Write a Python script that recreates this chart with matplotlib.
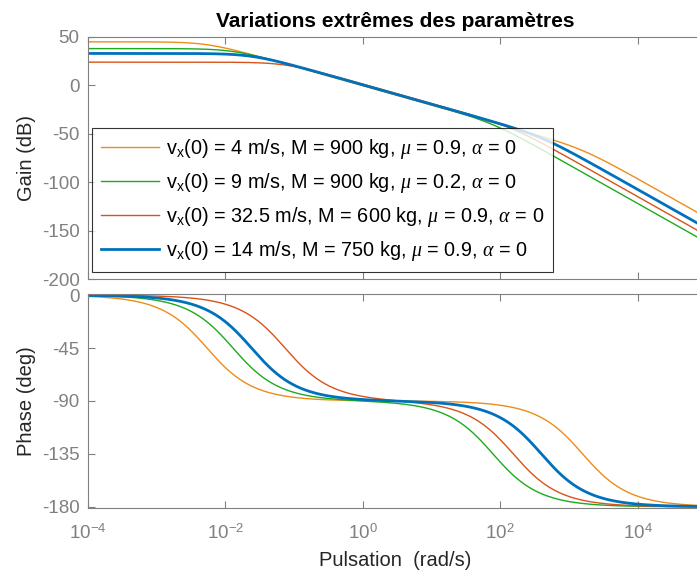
import numpy as np
import matplotlib
matplotlib.use("Agg")
import matplotlib.pyplot as plt

plt.rcParams['font.family'] = ['Liberation Sans', 'DejaVu Sans']
plt.rcParams['mathtext.fontset'] = 'custom'
plt.rcParams['mathtext.rm'] = 'Liberation Sans'
plt.rcParams['mathtext.it'] = 'Liberation Serif:italic'

# series (plateau gain and the two corner pulsations)
labels = [
    r"v$_\mathrm{x}$(0) = 4 m/s, M = 900 kg, $\mu$ = 0.9, $\alpha$ = 0",
    r"v$_\mathrm{x}$(0) = 9 m/s, M = 900 kg, $\mu$ = 0.2, $\alpha$ = 0",
    r"v$_\mathrm{x}$(0) = 32.5 m/s, M = 600 kg, $\mu$ = 0.9, $\alpha$ = 0",
    r"v$_\mathrm{x}$(0) = 14 m/s, M = 750 kg, $\mu$ = 0.9, $\alpha$ = 0",
]
dc_gain_db = [45.0, 38.0, 24.0, 33.0]
pole_low = [0.0054, 0.0129, 0.074, 0.024]
pole_high = [1585.0, 78.5, 155.0, 398.0]
colors = ['#EE8C1A', '#1DAA1D', '#D95319', '#0072BD']
widths = [1.0, 1.0, 1.0, 2.0]

xticks = [1e-4, 1e-2, 1e0, 1e2, 1e4]
gain_ticks = [-200, -150, -100, -50, 0, 50]
phase_ticks = [-180, -135, -90, -45, 0]

w = np.logspace(-4, 5, 1500)

fig = plt.figure(figsize=(6.97, 5.76), dpi=100)
ax1 = fig.add_axes([0.1263, 0.5156, 0.881, 0.4202])
ax2 = fig.add_axes([0.1263, 0.1181, 0.881, 0.3715])

for k in range(len(labels)):
    K = 10 ** (dc_gain_db[k] / 20)
    H = K / ((1 + 1j * w / pole_low[k]) * (1 + 1j * w / pole_high[k]))
    ax1.semilogx(w, 20 * np.log10(np.abs(H)), color=colors[k], lw=widths[k], label=labels[k])
    ax2.semilogx(w, np.degrees(np.unwrap(np.angle(H))), color=colors[k], lw=widths[k])

grey = '#808080'
for ax in (ax1, ax2):
    ax.set_xlim(1e-4, 10 ** 4.94)
    ax.set_xticks(xticks)
    ax.minorticks_off()
    ax.tick_params(direction='in', length=5, width=0.8, colors=grey, labelsize=13.5,
                   top=True, labelcolor=grey, pad=6)
    for s in ax.spines.values():
        s.set_color(grey)
        s.set_linewidth(0.8)
    ax.spines['right'].set_visible(False)

ax1.set_ylim(-200, 50)
ax1.set_yticks(gain_ticks)
ax1.set_yticklabels([str(t) for t in gain_ticks])
ax1.tick_params(labelbottom=False)
ax1.set_ylabel('Gain (dB)', fontsize=14.5, color='#262626', labelpad=4)
ax1.set_title('Variations extrêmes des paramètres', fontsize=15, fontweight='bold', pad=7)

ax2.set_ylim(-181, 1)
ax2.set_yticks(phase_ticks)
ax2.set_yticklabels([str(t) for t in phase_ticks])
ax2.set_xticklabels(['10$^{-4}$', '10$^{-2}$', '10$^{0}$', '10$^{2}$', '10$^{4}$'])
ax2.tick_params(axis='x', pad=11)
ax2.set_ylabel('Phase (deg)', fontsize=14.5, color='#262626', labelpad=4)
ax2.set_xlabel('Pulsation  (rad/s)', fontsize=14.5, color='#262626', labelpad=6)

leg = ax1.legend(loc='lower left', fontsize=14.3, frameon=True, fancybox=False,
                 handlelength=2.9, handletextpad=0.36, labelspacing=0.5,
                 borderpad=0.45, borderaxespad=0,
                 bbox_to_anchor=(4 / 614, 7 / 242))
leg.get_frame().set_edgecolor('black')
leg.get_frame().set_linewidth(0.8)

fig.savefig('out.png', dpi=100)
